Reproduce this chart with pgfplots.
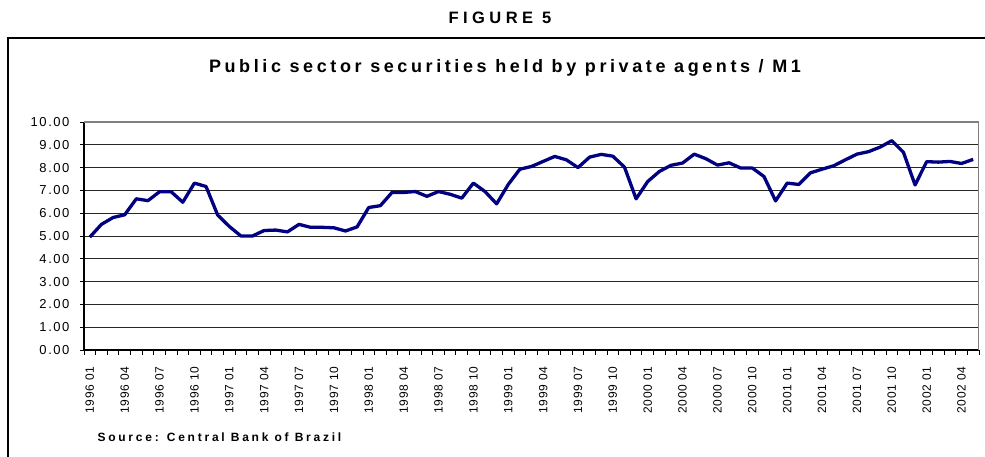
\documentclass[border=0pt]{standalone}
\usepackage{pgfplots}
\pgfplotsset{compat=1.18}
\usepackage{pgfplotstable}
\usepackage{fontspec}
\setmainfont{Liberation Sans}
\newfontfamily\ticklab[LetterSpace=12]{Liberation Sans}
\newfontfamily\xlab[LetterSpace=6]{Liberation Sans}
\newfontfamily\figfont[LetterSpace=27]{Liberation Sans}
\newfontfamily\titlefont[LetterSpace=20]{Liberation Sans}
\newfontfamily\srcfont[LetterSpace=23]{Liberation Sans}
\definecolor{navyline}{RGB}{0,0,128}

\pgfplotstableread{
v
4.95
5.51
5.81
5.93
6.63
6.55
6.94
6.94
6.48
7.32
7.17
5.92
5.42
5.00
5.00
5.24
5.26
5.18
5.51
5.38
5.38
5.36
5.22
5.40
6.25
6.33
6.91
6.91
6.95
6.74
6.95
6.83
6.66
7.32
6.95
6.41
7.26
7.93
8.05
8.27
8.49
8.34
8.00
8.46
8.58
8.50
8.02
6.63
7.39
7.83
8.10
8.20
8.59
8.39
8.11
8.21
7.98
7.98
7.61
6.54
7.32
7.26
7.77
7.93
8.08
8.34
8.59
8.70
8.90
9.18
8.67
7.24
8.26
8.24
8.27
8.18
8.36
}\ratio

\begin{document}
\begin{tikzpicture}[x=1pt,y=1pt]
\begin{axis}[
  name=ax,
  scale only axis, width=895pt, height=228pt,
  xmin=0, xmax=77, ymin=0, ymax=10,
  axis x line*=bottom, axis y line*=left,
  axis line style={black, line width=1.2pt},
  ytick={0,1,...,10},
  ymajorgrids,
  grid style={black!85, line width=0.9pt},
  xtick={0.5,3.5,...,75.5},
  xticklabels={1996 01,1996 04,1996 07,1996 10,1997 01,1997 04,1997 07,1997 10,1998 01,1998 04,1998 07,1998 10,1999 01,1999 04,1999 07,1999 10,2000 01,2000 04,2000 07,2000 10,2001 01,2001 04,2001 07,2001 10,2002 01,2002 04},
  minor xtick={0,1,...,77},
  major x tick style={draw=none},
  minor x tick style={black, line width=0.9pt},
  minor tick length=5pt,
  y tick style={black, line width=0.9pt},
  major tick length=4pt,
  tick align=outside,
  xticklabel style={rotate=90, anchor=east, font=\xlab\fontsize{12}{12}\selectfont, xshift=-2pt},
  xticklabel shift=7pt,
  yticklabel style={font=\ticklab\fontsize{13}{13}\selectfont, xshift=-7pt},
  /pgf/number format/.cd, fixed, fixed zerofill, precision=2, assume math mode=true,
]
\draw[gray, line width=1.2pt] (rel axis cs:0,1) -- (rel axis cs:1,1) -- (rel axis cs:1,0);
\addplot[navyline, line width=3.3pt, line join=round, mark=none] table[x expr=\coordindex+0.5, y=v] {\ratio};
\end{axis}
\pgfresetboundingbox
\begin{scope}[shift={(ax.south west)}, shift={(-84,-107)}]
\useasboundingbox (0,0) rectangle (985,457);
\draw[line width=1.3pt] (8,0) -- (8,419) -- (985,419);
\node[font=\figfont\bfseries\fontsize{16.5}{16.5}\selectfont] at (500,439) {FIGURE 5};
\node[font=\titlefont\bfseries\fontsize{18}{18}\selectfont] at (505,389) {Public sector securities held by private agents / M1};
\node[anchor=west, font=\srcfont\bfseries\fontsize{12}{12}\selectfont] at (94,20) {Source: Central Bank of Brazil};
\end{scope}
\end{tikzpicture}
\end{document}
